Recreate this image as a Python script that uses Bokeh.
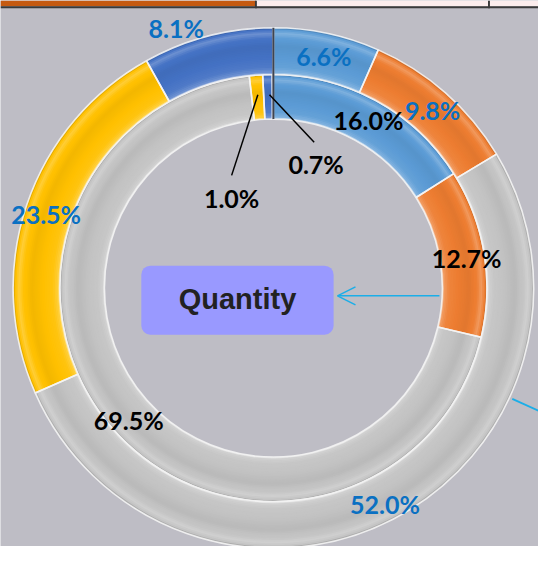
import numpy as np
from bokeh.plotting import figure
from bokeh.models import Range1d, Label, BoxAnnotation, Arrow, OpenHead
from bokeh.embed import file_html
from bokeh.resources import INLINE

# ---------------- data ----------------
categories = ["Category 1", "Category 2", "Category 3", "Category 4", "Category 5"]
outer_values = [6.6, 9.8, 52.0, 23.5, 8.1]
inner_values = [16.0, 12.7, 69.5, 1.0, 0.7]
outer_labels = ["6.6%", "9.8%", "52.0%", "23.5%", "8.1%"]
inner_labels = ["16.0%", "12.7%", "69.5%", "1.0%", "0.7%"]
center_title = "Quantity"

# ---------------- styles / layout ----------------
colors = ["#5B9BD5", "#ED7D31", "#C3C3C3", "#FFC000", "#4472C4"]
BG = "#BEBDC5"
W_REF, H_REF = 554, 562
CX, CY = 281, H_REF - 296
R_IN, R_MID, R_OUT = 174, 220, 268

# label positions (reference pixel coords, y from top)
outer_label_pos = [(333, 57), (445, 113), (396, 518), (47, 220), (181, 28)]
inner_label_pos = [(379, 123), (480, 265), (132, 432), (238, 203), (325, 168)]
leaders = {3: ((238, 180), (265, 97)), 4: ((277, 97), (323, 146))}

# bevel-like radial shading control points (t across ring, amount: + white, - black)
prof_t = [0.0, 0.05, 0.15, 0.35, 0.6, 0.78, 0.87, 0.94, 1.0]
prof_a = [0.55, 0.22, 0.06, 0.0, -0.05, 0.02, 0.22, 0.04, -0.18]
N_BANDS = 28


def mix(hexc, amt):
    r, g, b = (int(hexc[i:i + 2], 16) for i in (1, 3, 5))
    if amt >= 0:
        r, g, b = (c + (255 - c) * amt for c in (r, g, b))
    else:
        r, g, b = (c * (1 + amt) for c in (r, g, b))
    return "#%02x%02x%02x" % tuple(int(round(max(0, min(255, c)))) for c in (r, g, b))


def angles(vals):
    cum = np.concatenate([[0], np.cumsum(vals)]) / 100.0 * 2 * np.pi
    start = np.pi / 2 - cum[1:]
    end = np.pi / 2 - cum[:-1]
    return start, end


p = figure(width=538, height=546, x_range=Range1d(0, W_REF), y_range=Range1d(0, H_REF),
           output_backend="svg", toolbar_location=None, min_border=0,
           x_axis_type=None, y_axis_type=None,
           background_fill_color=BG, border_fill_color=BG)
p.grid.visible = False
p.outline_line_color = None

edges = np.linspace(0, 1, N_BANDS + 1)
for vals, r0, r1 in ((inner_values, R_IN, R_MID), (outer_values, R_MID, R_OUT)):
    s, e = angles(vals)
    p.annular_wedge(x=CX, y=CY, inner_radius=r0, outer_radius=r1, start_angle=s, end_angle=e,
                    fill_color=colors, line_color=None)
    for k in range(N_BANDS):
        t0, t1 = edges[k], edges[k + 1]
        amt = float(np.interp((t0 + t1) / 2, prof_t, prof_a))
        p.annular_wedge(x=CX, y=CY, inner_radius=r0 + t0 * (r1 - r0),
                        outer_radius=min(r1, r0 + (t1 + 0.012) * (r1 - r0)),
                        start_angle=s, end_angle=e, fill_color=[mix(c, amt) for c in colors],
                        line_color=None)
    p.annular_wedge(x=CX, y=CY, inner_radius=r0, outer_radius=r1, start_angle=s, end_angle=e,
                    fill_alpha=0, line_color="#F4F4F4", line_width=1.6, line_alpha=0.9)

# dark seam at 12 o'clock
p.segment(x0=CX, y0=CY + R_IN, x1=CX, y1=CY + R_OUT, line_color="#3F4450", line_width=2)

# labels
for txt, (x, y) in zip(outer_labels, outer_label_pos):
    p.add_layout(Label(x=x, y=H_REF - y, text=txt, text_align="center", text_baseline="middle",
                       text_font="Lato", text_font_style="bold", text_font_size="25px",
                       text_color="#0A70C2"))
for txt, (x, y) in zip(inner_labels, inner_label_pos):
    p.add_layout(Label(x=x, y=H_REF - y, text=txt, text_align="center", text_baseline="middle",
                       text_font="Lato", text_font_style="bold", text_font_size="25px",
                       text_color="#000000"))
for i, ((x0, y0), (x1, y1)) in leaders.items():
    p.segment(x0=x0, y0=H_REF - y0, x1=x1, y1=H_REF - y1, line_color="#000000", line_width=1.5)

# center callout
p.add_layout(BoxAnnotation(left=145, right=343, bottom=H_REF - 344, top=H_REF - 273,
                           fill_color="#9999FF", fill_alpha=1, line_color=None, border_radius=9))
p.add_layout(Label(x=244, y=H_REF - 307, text=center_title, text_align="center", text_baseline="middle",
                   text_font="Liberation Sans", text_font_style="bold", text_font_size="29px",
                   text_color="#222222"))
p.add_layout(Arrow(end=OpenHead(size=18, line_color="#1BAEE8", line_width=1.5),
                   x_start=452, y_start=H_REF - 304, x_end=347, y_end=H_REF - 304,
                   line_color="#1BAEE8", line_width=1.5))
p.segment(x0=527, y0=H_REF - 410, x1=560, y1=H_REF - 425, line_color="#1BAEE8", line_width=1.8)

# top strip (worksheet cells)
p.add_layout(BoxAnnotation(left=0, right=263, bottom=H_REF - 6, top=H_REF, fill_color="#C55A11",
                           fill_alpha=1, line_color=None))
p.add_layout(BoxAnnotation(left=263, right=W_REF, bottom=H_REF - 6, top=H_REF, fill_color="#FCEDED",
                           fill_alpha=1, line_color=None))
p.add_layout(BoxAnnotation(left=0, right=W_REF, bottom=H_REF - 8, top=H_REF - 6, fill_color="#3A3A3A",
                           fill_alpha=1, line_color=None))
for xv in (262, 502):
    p.add_layout(BoxAnnotation(left=xv, right=xv + 2, bottom=H_REF - 8, top=H_REF, fill_color="#3A3A3A",
                               fill_alpha=1, line_color=None))

open("out.html", "w").write(file_html(p, INLINE))
